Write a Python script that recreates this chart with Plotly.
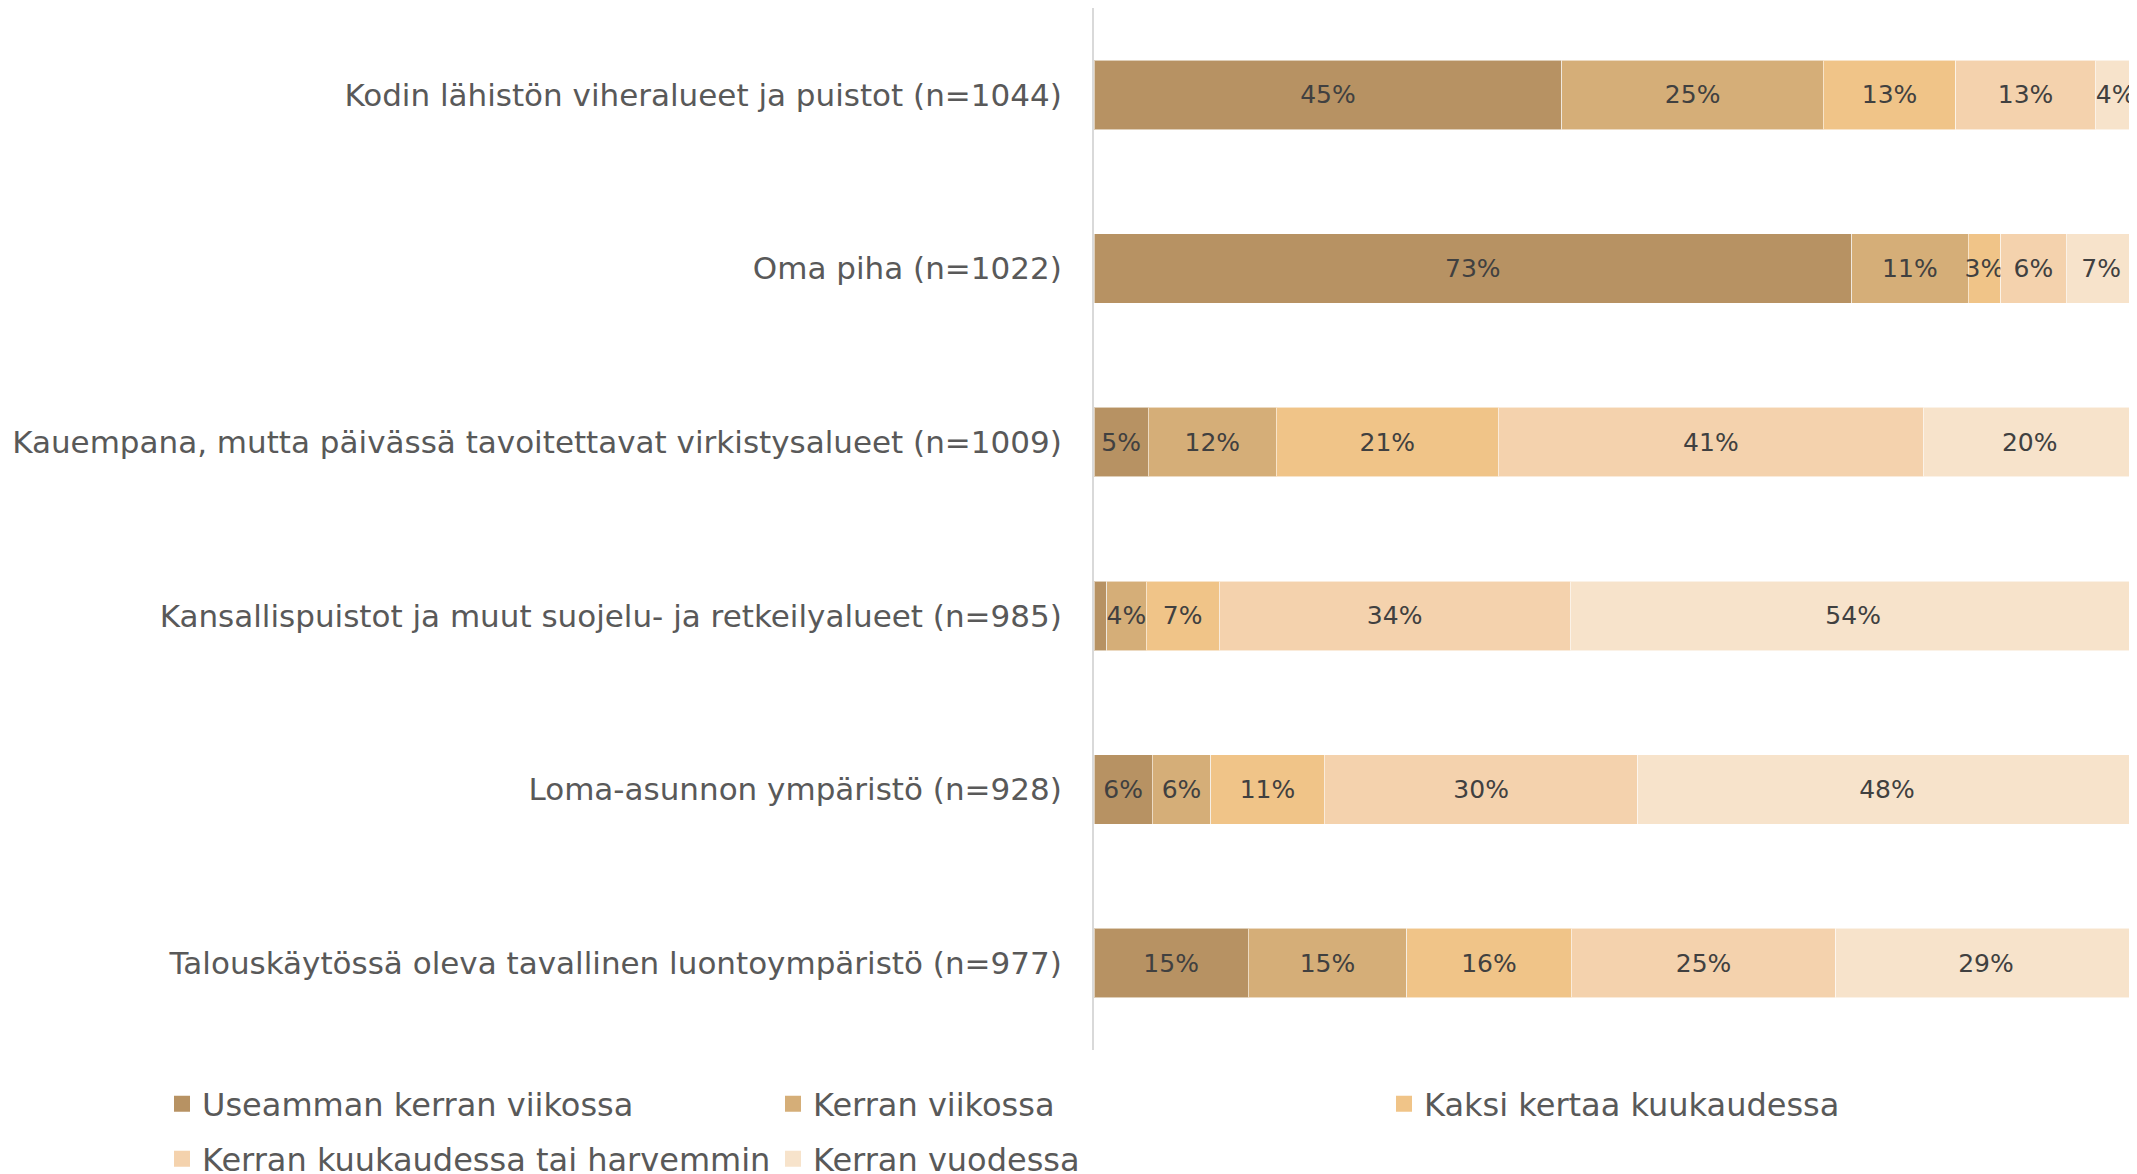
import plotly.graph_objects as go

categories = [
    "Kodin lähistön viheralueet ja puistot (n=1044)",
    "Oma piha (n=1022)",
    "Kauempana, mutta päivässä tavoitettavat virkistysalueet (n=1009)",
    "Kansallispuistot ja muut suojelu- ja retkeilyalueet (n=985)",
    "Loma-asunnon ympäristö (n=928)",
    "Talouskäytössä oleva tavallinen luontoympäristö (n=977)",
]

series_names = [
    "Useamman kerran viikossa",
    "Kerran viikossa",
    "Kaksi kertaa kuukaudessa",
    "Kerran kuukaudessa tai harvemmin",
    "Kerran vuodessa",
]

useamman = [44.9, 72.7, 5.2, 1.2, 5.6, 14.8]
kerran_viikossa = [25.1, 11.2, 12.3, 3.8, 5.6, 15.2]
kaksi_kertaa = [12.7, 3.1, 21.3, 7.0, 10.9, 15.8]
kerran_kuukaudessa = [13.4, 6.3, 40.8, 33.7, 30.1, 25.4]
kerran_vuodessa = [3.9, 6.7, 20.4, 54.3, 47.8, 28.8]

labels_useamman = ["45%", "73%", "5%", "", "6%", "15%"]
labels_kerran_viikossa = ["25%", "11%", "12%", "4%", "6%", "15%"]
labels_kaksi_kertaa = ["13%", "3%", "21%", "7%", "11%", "16%"]
labels_kerran_kuukaudessa = ["13%", "6%", "41%", "34%", "30%", "25%"]
labels_kerran_vuodessa = ["4%", "7%", "20%", "54%", "48%", "29%"]

colors = ["#B79263", "#D5AE78", "#F0C488", "#F4D2AD", "#F7E3CB"]

all_values = [useamman, kerran_viikossa, kaksi_kertaa, kerran_kuukaudessa, kerran_vuodessa]
all_labels = [labels_useamman, labels_kerran_viikossa, labels_kaksi_kertaa,
              labels_kerran_kuukaudessa, labels_kerran_vuodessa]

W, H = 2137, 1174
OFF = 8  # page body margin offset
ML, MR, MT, MB = 1094 - OFF, 9, 0, 132
plot_w = W - ML - MR
plot_h = H - MT - MB

fig = go.Figure()
for i, (name, vals, labs, col) in enumerate(zip(series_names, all_values, all_labels, colors)):
    fig.add_trace(go.Bar(
        y=categories, x=vals, name=name, orientation="h",
        marker=dict(color=col, line=dict(color="rgba(255,255,255,0.55)", width=1)),
        text=labs, textposition="inside", insidetextanchor="middle",
        textangle=0, constraintext="none",
        textfont=dict(family="DejaVu Sans", size=25, color="#404040"),
        width=0.4,
        showlegend=False,
        hoverinfo="skip",
    ))

# legend entries (square swatches)
for i, (name, col) in enumerate(zip(series_names, colors)):
    fig.add_trace(go.Scatter(
        x=[None], y=[None], mode="markers", name=name,
        marker=dict(symbol="square", size=16, color=col),
        legend="legend" if i < 3 else "legend2",
        hoverinfo="skip",
    ))

def px_to_paper_x(px):
    return (px - OFF - ML) / plot_w

def px_to_paper_y(py):
    return (H - MB - (py - OFF)) / plot_h

legend_common = dict(
    orientation="h", xanchor="left", yanchor="middle",
    font=dict(family="DejaVu Sans", size=32, color="#595959"),
    entrywidth=566, entrywidthmode="pixels",
    bgcolor="rgba(0,0,0,0)", traceorder="normal", itemsizing="trace",
    itemclick=False, itemdoubleclick=False,
)

fig.update_layout(
    width=W, height=H,
    margin=dict(l=ML, r=MR, t=MT, b=MB, pad=0, autoexpand=False),
    barmode="stack",
    bargap=0.6,
    plot_bgcolor="white", paper_bgcolor="white",
    showlegend=True,
    legend=dict(x=px_to_paper_x(162), y=px_to_paper_y(1104), **legend_common),
    legend2=dict(x=px_to_paper_x(162), y=px_to_paper_y(1159), **legend_common),
    xaxis=dict(range=[0, 100], visible=False, fixedrange=True),
    yaxis=dict(
        autorange="reversed", showgrid=False, zeroline=False,
        showline=True, linecolor="#D9D9D9", linewidth=2,
        ticks="", ticklabelstandoff=24,
        tickfont=dict(family="DejaVu Sans", size=31, color="#595959"),
        fixedrange=True,
    ),
)

fig.write_html("out.html")
